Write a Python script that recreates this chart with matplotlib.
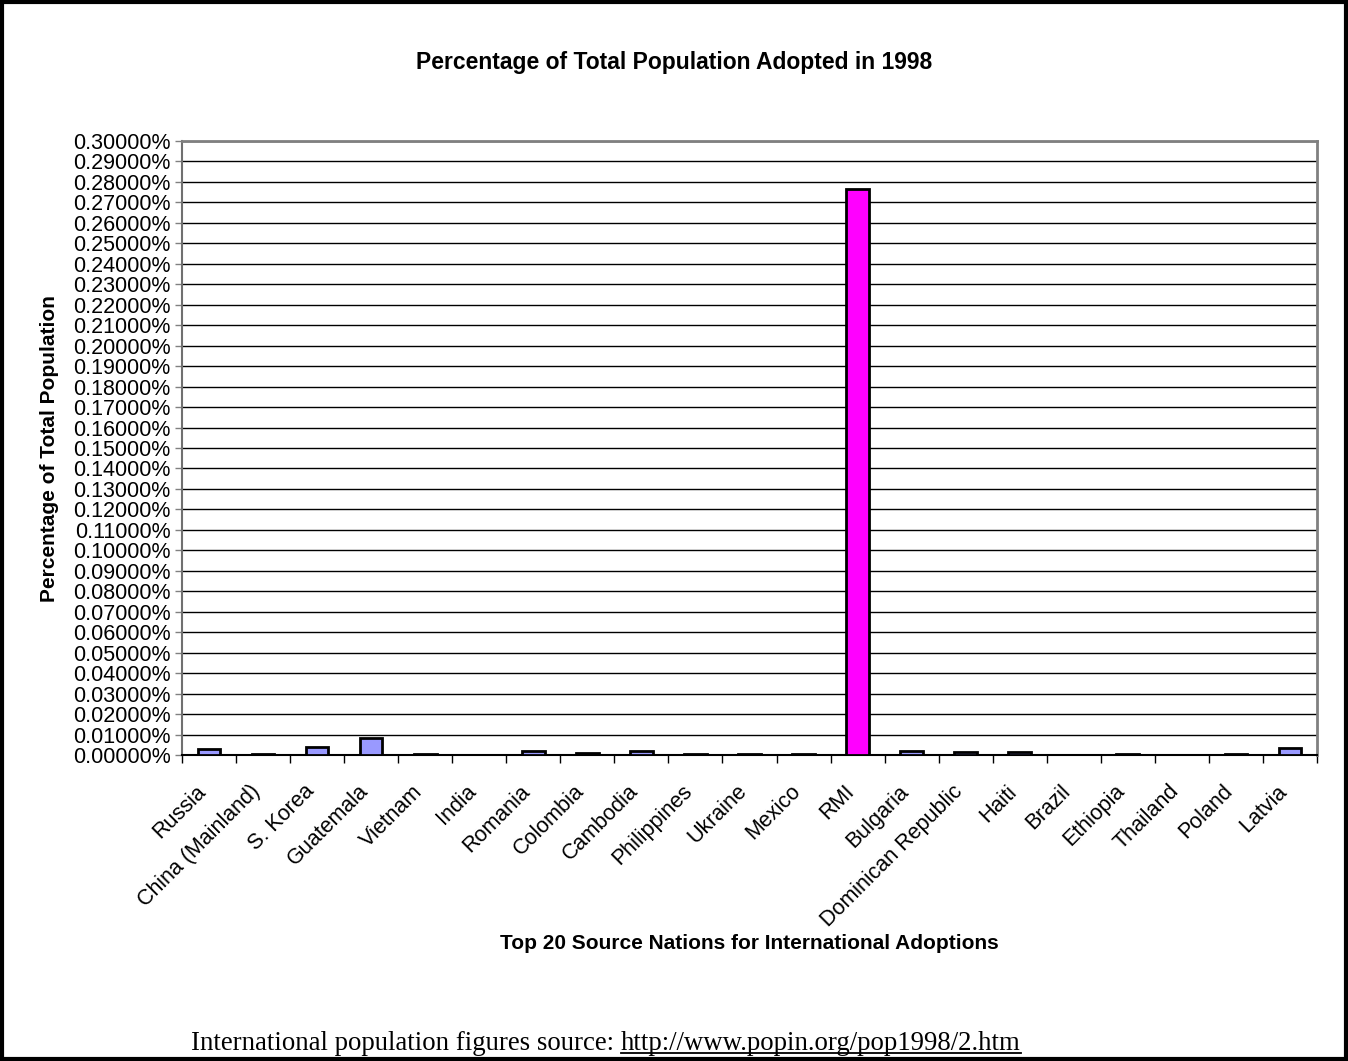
import matplotlib
matplotlib.use("Agg")
import matplotlib.pyplot as plt
import matplotlib.transforms as mtransforms
import numpy as np
from matplotlib.patches import Rectangle
from matplotlib.ticker import FuncFormatter, MultipleLocator

# data (percent of total population)
countries = ["Russia", "China (Mainland)", "S. Korea", "Guatemala", "Vietnam", "India",
             "Romania", "Colombia", "Cambodia", "Philippines", "Ukraine", "Mexico", "RMI",
             "Bulgaria", "Dominican Republic", "Haiti", "Brazil", "Ethiopia", "Thailand",
             "Poland", "Latvia"]
pct_adopted = [0.0031, 0.0003, 0.0041, 0.0085, 0.0005, 0.00005,
               0.0019, 0.0010, 0.0021, 0.0003, 0.0003, 0.0003, 0.2765,
               0.0019, 0.0015, 0.0015, 0.00005, 0.0003, 0.00005,
               0.0003, 0.0032]
highlight = "RMI"

title = "Percentage of Total Population Adopted in 1998"
xlabel = "Top 20 Source Nations for International Adoptions"
ylabel = "Percentage of Total Population"
source_txt = "International population figures source: "
source_url = "http://www.popin.org/pop1998/2.htm"

plt.rcParams['font.family'] = ['Liberation Sans', 'DejaVu Sans']

fig = plt.figure(figsize=(13.48, 10.61), dpi=100)
ax = fig.add_axes([0.135, 0.2884, 0.842, 0.5787])

x = np.arange(len(countries))
colors = ['#FF00FF' if c == highlight else '#9999FF' for c in countries]
ax.bar(x, pct_adopted, width=0.42, color=colors, edgecolor='black', linewidth=2, zorder=3)

ax.set_xlim(-0.5, len(countries) - 0.5)
ax.set_ylim(0, 0.30)
ax.yaxis.set_major_locator(MultipleLocator(0.01))
ax.yaxis.set_major_formatter(FuncFormatter(lambda v, p: "%.5f%%" % v))
ax.grid(axis='y', color='black', linewidth=1, zorder=0)
ax.tick_params(axis='y', labelsize=15.5, length=5, width=1, color='#808080', pad=3)

# category labels at centres, tick marks at the boundaries
ax.set_xticks(x)
ax.set_xticklabels(countries, rotation=45, ha='right', va='center', rotation_mode='anchor', fontsize=15.5)
ax.tick_params(axis='x', which='major', length=0, pad=24)
ax.set_xticks(np.arange(-0.5, len(countries)), minor=True)
ax.tick_params(axis='x', which='minor', length=6, width=1, color='black')
shift = mtransforms.ScaledTranslation(-6 / 100, 0, fig.dpi_scale_trans)
for lab in ax.get_xticklabels():
    lab.set_transform(lab.get_transform() + shift)

for s in ['top', 'right']:
    ax.spines[s].set_color('#808080')
    ax.spines[s].set_linewidth(2)
ax.spines['left'].set_color('#707070')
ax.spines['left'].set_linewidth(1.5)
ax.spines['bottom'].set_color('black')
ax.spines['bottom'].set_linewidth(1.5)

fig.text(0.5, 0.9415, title, ha='center', va='center', fontsize=16.5, fontweight='bold')
fig.text(0.037, 0.577, ylabel, ha='center', va='center', rotation=90, fontsize=15, fontweight='bold')
fig.text(0.556, 0.111, xlabel, ha='center', va='center', fontsize=15, fontweight='bold')

t1 = fig.text(0.142, 0.0105, source_txt, ha='left', va='baseline', fontsize=19.3,
              family=['Liberation Serif', 'DejaVu Serif'])
fig.canvas.draw()
bb = t1.get_window_extent()
url_x = bb.x1 / fig.bbox.width
t2 = fig.text(url_x, 0.0105, source_url, ha='left', va='baseline', fontsize=19.3,
              family=['Liberation Serif', 'DejaVu Serif'])
fig.canvas.draw()
bb2 = t2.get_window_extent()
fig.add_artist(plt.Line2D([bb2.x0 / fig.bbox.width, bb2.x1 / fig.bbox.width],
                          [0.0072, 0.0072], color='black', linewidth=1.3,
                          transform=fig.transFigure))

# outer border of the chart
fig.add_artist(Rectangle((0.0015, 0.0015), 0.997, 0.997, transform=fig.transFigure,
                         fill=False, edgecolor='black', linewidth=3))

fig.savefig("out.png", dpi=100)
